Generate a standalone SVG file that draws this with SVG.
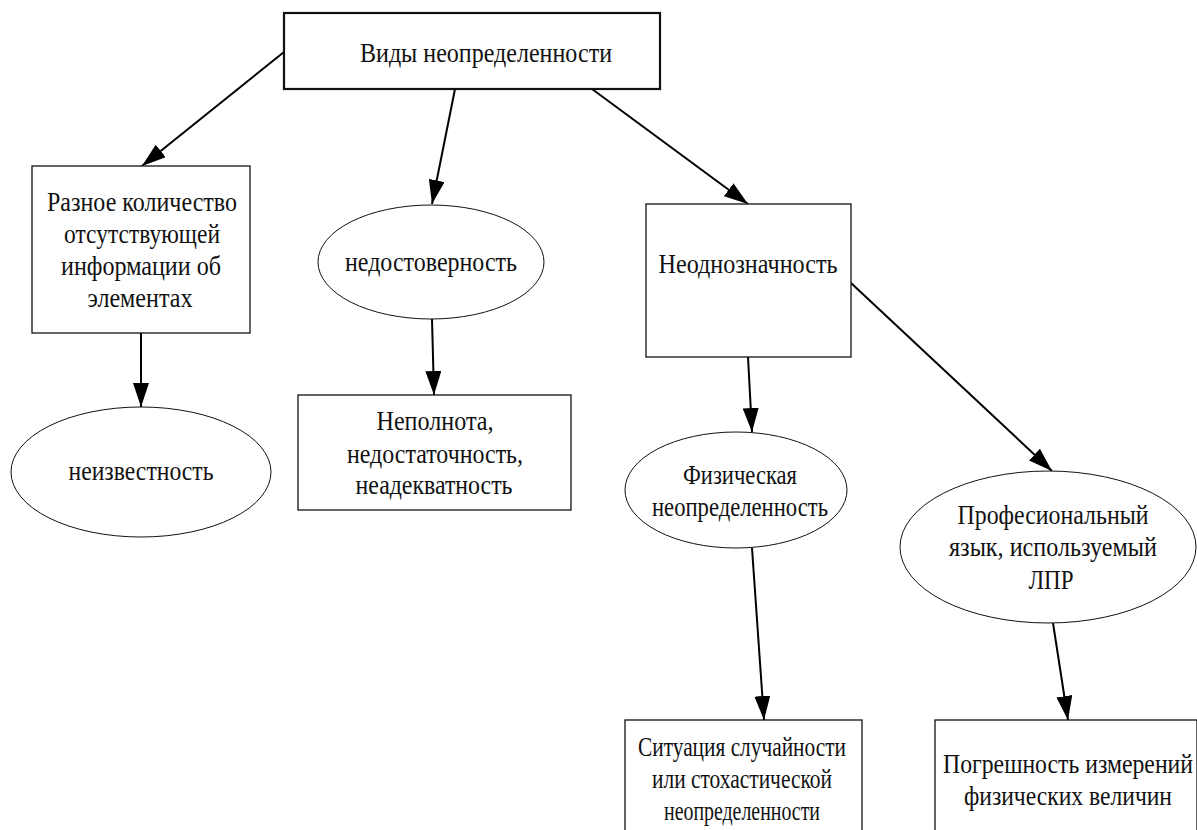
<svg xmlns="http://www.w3.org/2000/svg" width="1197" height="830" viewBox="0 0 1197 830">
<style>
text{font-family:"Liberation Serif","Times New Roman",serif;font-size:28px;fill:#111;text-anchor:middle}
.box{fill:#fff;stroke:#111;stroke-width:1.3}
.top{fill:#fff;stroke:#111;stroke-width:2.2}
.ell{fill:#fff;stroke:#111;stroke-width:1}
.edge{stroke:#000;stroke-width:2;fill:none;marker-end:url(#ah)}
</style>
<defs>
<marker id="ah" viewBox="0 0 12 8" refX="12" refY="4" markerWidth="12" markerHeight="8" markerUnits="strokeWidth" orient="auto">
<path d="M0,0 L12,4 L0,8 Z" fill="#000"/>
</marker>
</defs>
<rect width="1197" height="830" fill="#fff"/>
<g id="edges">
<line class="edge" x1="284" y1="52" x2="142" y2="166"/>
<line class="edge" x1="455" y1="89" x2="432" y2="204"/>
<line class="edge" x1="592" y1="89" x2="748" y2="204"/>
<line class="edge" x1="141" y1="333" x2="141" y2="407"/>
<line class="edge" x1="432" y1="319" x2="434" y2="395"/>
<line class="edge" x1="748" y1="357" x2="752" y2="432"/>
<line class="edge" x1="851" y1="283" x2="1052" y2="471"/>
<line class="edge" x1="752" y1="548" x2="764" y2="720"/>
<line class="edge" x1="1053" y1="623" x2="1068" y2="720"/>
</g>
<g id="n-top">
<rect class="top" x="284" y="13" width="376" height="76"/>
<text x="486" y="62" textLength="252" lengthAdjust="spacingAndGlyphs">Виды неопределенности</text>
</g>
<g id="n-raznoe">
<rect class="box" x="32" y="166" width="218" height="167"/>
<text x="142" y="211" textLength="190" lengthAdjust="spacingAndGlyphs">Разное количество</text>
<text x="142" y="243" textLength="156" lengthAdjust="spacingAndGlyphs">отсутствующей</text>
<text x="141" y="275" textLength="160" lengthAdjust="spacingAndGlyphs">информации об</text>
<text x="140" y="307" textLength="105" lengthAdjust="spacingAndGlyphs">элементах</text>
</g>
<g id="n-neizv">
<ellipse class="ell" cx="141" cy="472" rx="130" ry="65"/>
<text x="141" y="480" textLength="145" lengthAdjust="spacingAndGlyphs">неизвестность</text>
</g>
<g id="n-nedost">
<ellipse class="ell" cx="431" cy="262" rx="113" ry="57"/>
<text x="431" y="271" textLength="172" lengthAdjust="spacingAndGlyphs">недостоверность</text>
</g>
<g id="n-nepolnota">
<rect class="box" x="298" y="395" width="273" height="115"/>
<text x="435" y="430" textLength="117" lengthAdjust="spacingAndGlyphs">Неполнота,</text>
<text x="435" y="463" textLength="176" lengthAdjust="spacingAndGlyphs">недостаточность,</text>
<text x="434" y="494" textLength="157" lengthAdjust="spacingAndGlyphs">неадекватность</text>
</g>
<g id="n-neodn">
<rect class="box" x="646" y="204" width="205" height="153"/>
<text x="748" y="273" textLength="179" lengthAdjust="spacingAndGlyphs">Неоднозначность</text>
</g>
<g id="n-fiz">
<ellipse class="ell" cx="736" cy="490" rx="111" ry="58"/>
<text x="740" y="484" textLength="114" lengthAdjust="spacingAndGlyphs">Физическая</text>
<text x="740" y="516" textLength="176" lengthAdjust="spacingAndGlyphs">неопределенность</text>
</g>
<g id="n-prof">
<ellipse class="ell" cx="1048" cy="547" rx="148" ry="76"/>
<text x="1053" y="524" textLength="191" lengthAdjust="spacingAndGlyphs">Професиональный</text>
<text x="1053" y="556" textLength="208" lengthAdjust="spacingAndGlyphs">язык, используемый</text>
<text x="1051" y="589" textLength="45" lengthAdjust="spacingAndGlyphs">ЛПР</text>
</g>
<g id="n-situacia">
<rect class="box" x="625" y="720" width="237" height="130"/>
<text x="742" y="756" textLength="208" lengthAdjust="spacingAndGlyphs">Ситуация случайности</text>
<text x="742" y="788" textLength="180" lengthAdjust="spacingAndGlyphs">или стохастической</text>
<text x="742" y="820" textLength="156" lengthAdjust="spacingAndGlyphs">неопределенности</text>
</g>
<g id="n-pogr">
<rect class="box" x="935" y="720" width="262" height="130"/>
<text x="1068" y="773" textLength="250" lengthAdjust="spacingAndGlyphs">Погрешность измерений</text>
<text x="1068" y="805" textLength="208" lengthAdjust="spacingAndGlyphs">физических величин</text>
</g>
</svg>
